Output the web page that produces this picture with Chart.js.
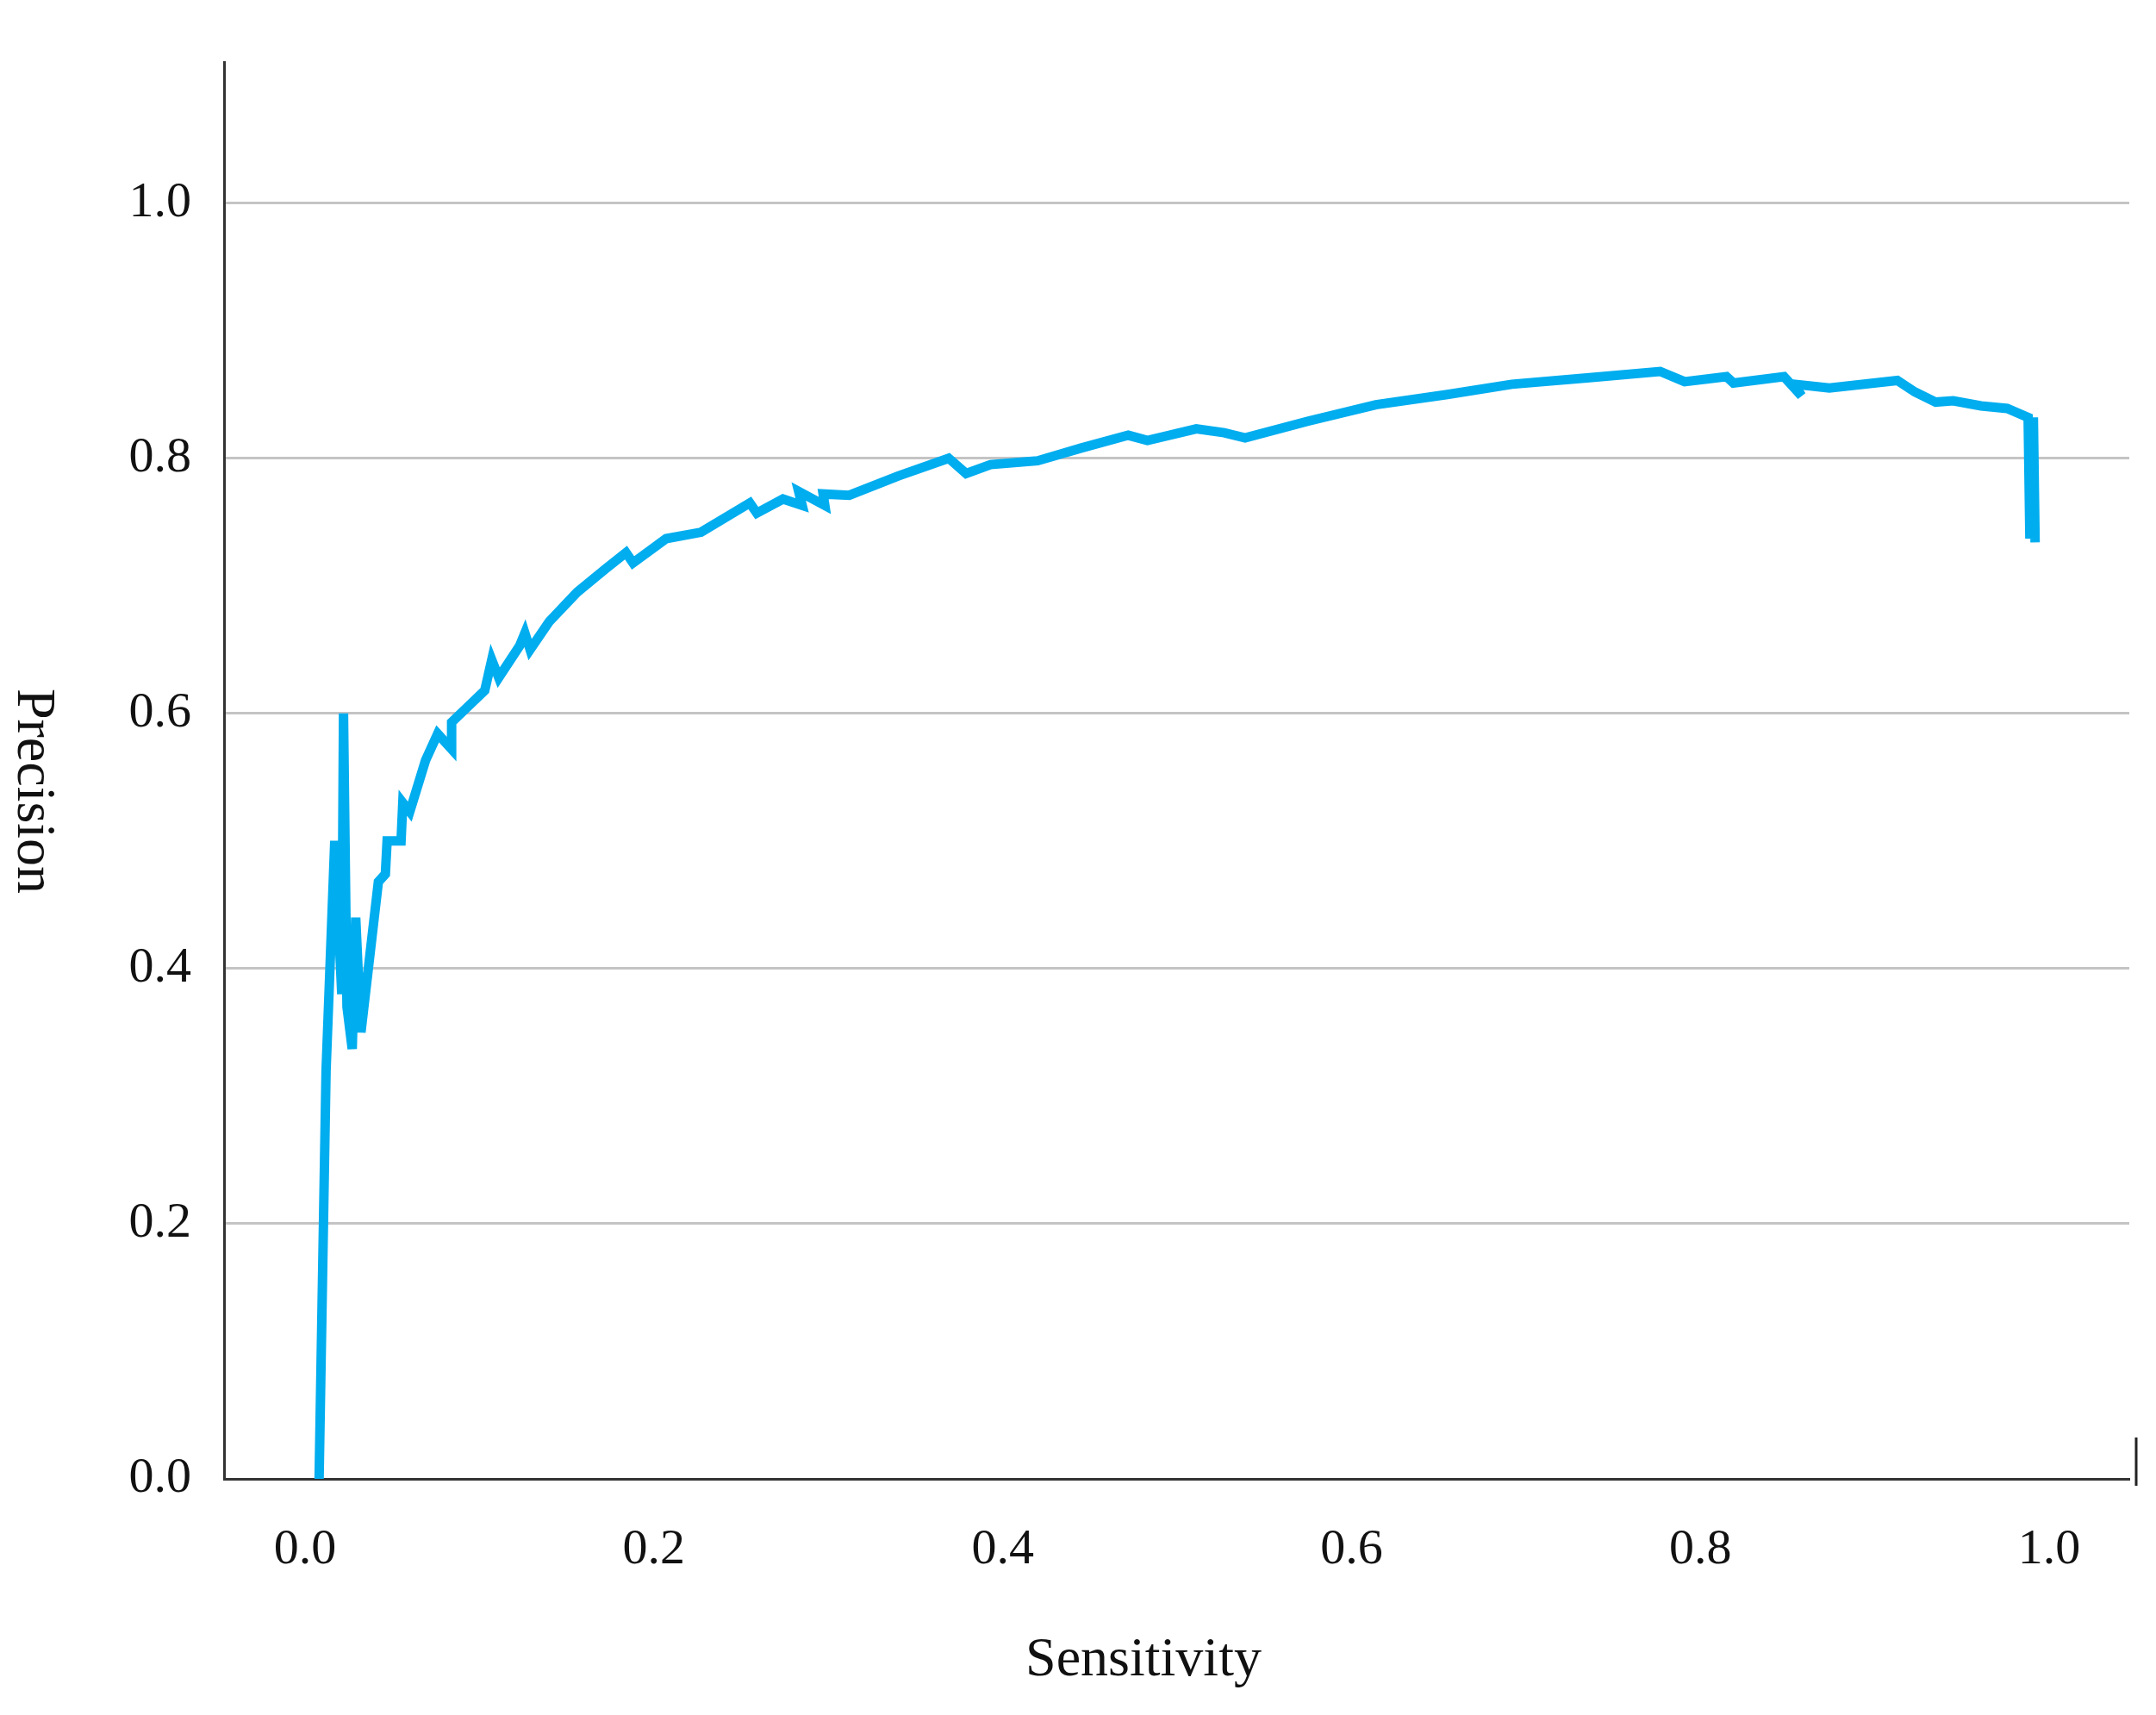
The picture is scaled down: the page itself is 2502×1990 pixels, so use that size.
<!DOCTYPE html>
<html>
<head>
<meta charset="utf-8">
<script src="https://cdn.jsdelivr.net/npm/chart.js@4.4.0/dist/chart.umd.min.js"></script>
<style>body{margin:0;background:#fff}</style>
</head>
<body>
<canvas id="pr" width="2502" height="1990"></canvas>
<script>
// precision-recall curve, values
const sensitivity = [0.008,0.012,0.017,0.021,0.022,0.024,0.027,0.029,0.032,0.042,0.046,0.047,0.055,0.056,0.060,0.069,0.076,0.084,0.084,0.103,0.107,0.111,0.123,0.126,0.129,0.140,0.156,0.172,0.184,0.188,0.207,0.227,0.255,0.259,0.274,0.285,0.283,0.298,0.297,0.312,0.340,0.369,0.379,0.393,0.420,0.445,0.472,0.483,0.511,0.527,0.539,0.575,0.614,0.655,0.692,0.735,0.777,0.791,0.815,0.819,0.848,0.858,0.854,0.874,0.913,0.923,0.935,0.945,0.961,0.976,0.988,0.989,0.991,0.992];
const precision   = [0.0,0.32,0.5,0.38,0.6,0.37,0.337,0.44,0.35,0.468,0.474,0.5,0.5,0.53,0.523,0.563,0.584,0.572,0.593,0.618,0.642,0.628,0.653,0.663,0.65,0.672,0.695,0.713,0.726,0.718,0.737,0.742,0.765,0.757,0.768,0.763,0.774,0.763,0.772,0.771,0.786,0.8,0.788,0.795,0.798,0.808,0.818,0.814,0.823,0.82,0.816,0.829,0.842,0.850,0.858,0.863,0.868,0.86,0.864,0.859,0.864,0.849,0.858,0.855,0.861,0.852,0.844,0.845,0.841,0.839,0.832,0.737,0.832,0.734];
const xTicks = [0, 0.2, 0.4, 0.6, 0.8, 1.0];
const yTicks = [0, 0.2, 0.4, 0.6, 0.8, 1.0];

const font = "'Liberation Serif', 'DejaVu Serif', serif";

const titles = {
  id: 'titles',
  afterDraw(chart) {
    const ctx = chart.ctx;
    ctx.save();
    ctx.fillStyle = '#111';
    ctx.font = '64px ' + font;
    ctx.textAlign = 'center';
    ctx.textBaseline = 'middle';
    ctx.fillText('Sensitivity', 1327, 1927);
    ctx.translate(38, 918);
    ctx.rotate(Math.PI / 2);
    ctx.fillText('Precision', 0, 0);
    ctx.restore();
    // small end mark at the right of the x axis
    ctx.save();
    ctx.strokeStyle = '#222';
    ctx.lineWidth = 3;
    ctx.beginPath();
    ctx.moveTo(2479, 1668);
    ctx.lineTo(2479, 1724);
    ctx.stroke();
    ctx.restore();
  }
};

new Chart(document.getElementById('pr'), {
  type: 'line',
  data: {
    datasets: [{
      data: sensitivity.map((s, i) => ({ x: s, y: precision[i] })),
      borderColor: '#00adef',
      borderWidth: 11,
      pointRadius: 0,
      tension: 0
    }]
  },
  options: {
    responsive: false,
    animation: false,
    layout: { padding: { top: 0, right: 31, left: 0, bottom: 0 } },
    plugins: { legend: { display: false }, tooltip: { enabled: false } },
    scales: {
      x: {
        type: 'linear',
        min: -0.0465,
        max: 1.046,
        afterBuildTicks: s => { s.ticks = xTicks.map(v => ({ value: v })); },
        afterFit: s => { s.height = 274; },
        grid: { display: false, drawTicks: false },
        border: { color: '#333', width: 3 },
        ticks: {
          padding: 48,
          color: '#111',
          font: { family: font, size: 58 },
          callback: v => v.toFixed(1)
        }
      },
      y: {
        min: 0,
        max: 1.11,
        afterBuildTicks: s => { s.ticks = yTicks.map(v => ({ value: v })); },
        afterFit: s => { s.width = 260; },
        grid: {
          color: ctx => ctx.tick && ctx.tick.value === 0 ? 'rgba(0,0,0,0)' : '#c4c4c4',
          lineWidth: 3,
          drawTicks: false
        },
        border: { color: '#333', width: 3 },
        ticks: {
          padding: 38,
          color: '#111',
          font: { family: font, size: 58 },
          callback: v => v.toFixed(1)
        }
      }
    }
  },
  plugins: [titles]
});
</script>
</body>
</html>
